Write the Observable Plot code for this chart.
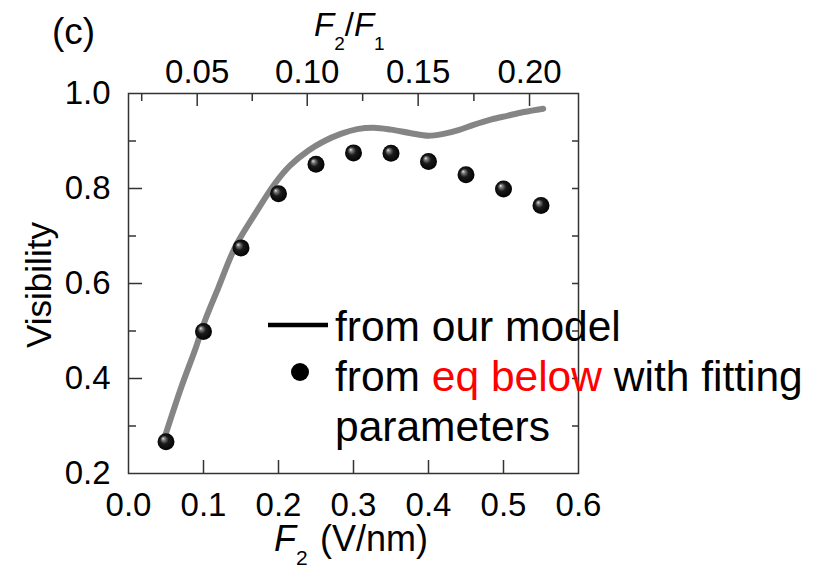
<!DOCTYPE html>
<html>
<head>
<meta charset="utf-8">
<script src="https://cdn.jsdelivr.net/npm/d3@7"></script>
<script src="https://cdn.jsdelivr.net/npm/@observablehq/plot@0.6"></script>
<style>
  html, body { margin: 0; padding: 0; background: #fff; }
  #chart { width: 828px; height: 569px; }
</style>
</head>
<body>
<div id="chart"></div>
<script>
// ---- data ----
const pointF2 = [0.05, 0.10, 0.15, 0.20, 0.25, 0.30, 0.35, 0.40, 0.45, 0.50, 0.55];
const pointVisibility = [0.267, 0.499, 0.675, 0.789, 0.851, 0.875, 0.874, 0.857, 0.829, 0.799, 0.764];

const modelF2 = [0.048, 0.07, 0.09, 0.102, 0.12, 0.142, 0.169, 0.196, 0.216, 0.24, 0.26, 0.283, 0.305, 0.327, 0.35, 0.375, 0.40, 0.42, 0.44, 0.46, 0.483, 0.505, 0.527, 0.553];
const modelVisibility = [0.275, 0.38, 0.466, 0.522, 0.592, 0.676, 0.747, 0.812, 0.849, 0.880, 0.899, 0.915, 0.925, 0.928, 0.924, 0.917, 0.911, 0.915, 0.923, 0.934, 0.945, 0.953, 0.961, 0.968];

const xTickValues = [0.0, 0.1, 0.2, 0.3, 0.4, 0.5, 0.6];
const xTickLabels = ["0.0", "0.1", "0.2", "0.3", "0.4", "0.5", "0.6"];
const yTickValues = [0.2, 0.4, 0.6, 0.8, 1.0];
const yTickLabels = ["0.2", "0.4", "0.6", "0.8", "1.0"];
const yMinorTicks = [0.3, 0.5, 0.7, 0.9];
const yRightTicks = [0.3, 0.4, 0.5, 0.6, 0.7, 0.8, 0.9];
const xInnerTicks = [0.1, 0.2, 0.3, 0.4, 0.5];

// top axis (F2/F1) tick labels and their positions on the F2 scale
const topTickLabels = ["0.05", "0.10", "0.15", "0.20"];
const topTickF2 = [0.0916, 0.2383, 0.3862, 0.5347];
const topMinorF2 = [0.0176, 0.1650, 0.3122, 0.4605];

// ---- layout ----
const W = 828, H = 569;
const mL = 128, mR = 250, mT = 93, mB = 96;
const innerW = W - mL - mR, innerH = H - mT - mB;
const FONT = "'Liberation Sans', Arial, Helvetica, sans-serif";
const frameColor = "#333";
const TICKFS = 33;

const pts = pointF2.map((x, i) => ({x, y: pointVisibility[i]}));
const model = modelF2.map((x, i) => ({x, y: modelVisibility[i]}));

const svg = Plot.plot({
  width: W, height: H,
  marginLeft: mL, marginRight: mR, marginTop: mT, marginBottom: mB,
  style: {fontFamily: FONT, fontSize: TICKFS + "px", color: "#000", background: "#fff", overflow: "visible"},
  x: {domain: [0, 0.6]},
  y: {domain: [0.2, 1.0]},
  marks: [
    // inward tick marks
    Plot.ruleX(xInnerTicks, {x: d => d, stroke: frameColor, strokeWidth: 1.5, insetTop: innerH - 13}),
    Plot.ruleX(topTickF2, {x: d => d, stroke: frameColor, strokeWidth: 1.5, insetBottom: innerH - 13}),
    Plot.ruleX(topMinorF2, {x: d => d, stroke: frameColor, strokeWidth: 1.5, insetBottom: innerH - 8}),
    Plot.ruleY(yTickValues.slice(1, -1), {y: d => d, stroke: frameColor, strokeWidth: 1.5, insetRight: innerW - 14}),
    Plot.ruleY(yMinorTicks, {y: d => d, stroke: frameColor, strokeWidth: 1.5, insetRight: innerW - 8}),
    Plot.ruleY(yRightTicks, {y: d => d, stroke: frameColor, strokeWidth: 1.5, insetLeft: innerW - 6}),
    // tick labels
    Plot.axisX(xTickValues, {anchor: "bottom", tickSize: 0, tickPadding: 19, fontSize: TICKFS,
      tickFormat: d => xTickLabels[xTickValues.indexOf(d)], label: null}),
    Plot.axisX(topTickF2, {anchor: "top", tickSize: 0, tickPadding: 11, fontSize: TICKFS,
      tickFormat: d => topTickLabels[topTickF2.indexOf(d)], label: null}),
    Plot.axisY(yTickValues, {anchor: "left", tickSize: 0, tickPadding: 18, fontSize: TICKFS,
      tickFormat: d => yTickLabels[yTickValues.indexOf(d)], label: null}),
    // model curve
    Plot.line(model, {x: "x", y: "y", stroke: "#858585", strokeWidth: 6, curve: "catmull-rom", strokeLinecap: "round"}),
    // fitted points
    Plot.dot(pts, {x: "x", y: "y", r: 8.5, fill: "#000", stroke: "none"}),
    Plot.frame({stroke: frameColor, strokeWidth: 1.5})
  ]
});

const s = d3.select(svg);
// enforce tick label size
s.selectAll('g[aria-label$="tick label"]').attr("font-size", TICKFS);
// sphere gradient
const defs = s.insert("defs", ":first-child");
const g = defs.append("radialGradient").attr("id", "ball")
  .attr("cx", "50%").attr("cy", "50%").attr("r", "55%").attr("fx", "32%").attr("fy", "30%");
g.append("stop").attr("offset", "0").attr("stop-color", "#e6e6e6");
g.append("stop").attr("offset", "0.18").attr("stop-color", "#7a7a7a");
g.append("stop").attr("offset", "0.45").attr("stop-color", "#1a1a1a");
g.append("stop").attr("offset", "1").attr("stop-color", "#000");
s.selectAll('g[aria-label="dot"] circle').attr("fill", "url(#ball)");

const ann = s.append("g").attr("font-family", FONT).attr("fill", "#000").attr("text-anchor", "start");
// panel label
ann.append("text").attr("x", 52).attr("y", 44).attr("font-size", 37).text("(c)");
// top axis title F2/F1
const tt = ann.append("text").attr("x", 314).attr("y", 36).attr("font-size", 33);
tt.append("tspan").attr("font-style", "italic").text("F");
tt.append("tspan").attr("font-size", 19).attr("dy", 14).text("2");
tt.append("tspan").attr("dy", -14).text("/");
tt.append("tspan").attr("font-style", "italic").text("F");
tt.append("tspan").attr("font-size", 19).attr("dy", 14).text("1");
// bottom axis title
const bt = ann.append("text").attr("x", 274).attr("y", 551).attr("font-size", 36);
bt.append("tspan").attr("font-style", "italic").text("F");
bt.append("tspan").attr("font-size", 21).attr("dy", 14).text("2");
bt.append("tspan").attr("dy", -14).attr("x", 320).text("(V/nm)");
// y axis title
ann.append("text").attr("transform", "translate(51,285) rotate(-90)")
  .attr("text-anchor", "middle").attr("font-size", 35).text("Visibility");

// legend
const lg = ann.append("g").attr("font-size", 42.5).attr("text-anchor", "start");
lg.append("line").attr("x1", 268).attr("x2", 328).attr("y1", 325).attr("y2", 325)
  .attr("stroke", "#000").attr("stroke-width", 4.5);
lg.append("text").attr("x", 335).attr("y", 341).text("from our model");
lg.append("circle").attr("cx", 300).attr("cy", 372).attr("r", 9).style("fill", "#000");
const l2 = lg.append("text").attr("x", 335).attr("y", 391);
l2.append("tspan").text("from ");
l2.append("tspan").attr("fill", "#ff0000").text("eq below");
l2.append("tspan").text(" with fitting");
lg.append("text").attr("x", 335).attr("y", 441).text("parameters");

document.getElementById("chart").appendChild(svg);
</script>
</body>
</html>
